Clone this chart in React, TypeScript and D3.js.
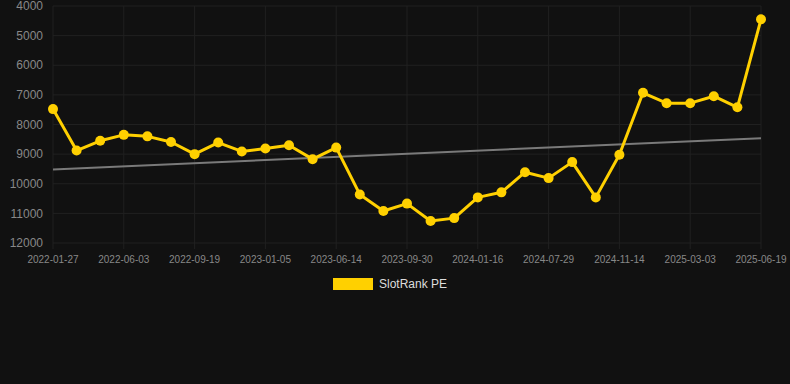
import React, { useEffect, useRef } from "react";
import * as d3 from "d3";

const tickLabels = [
  "2022-01-27", "2022-06-03", "2022-09-19", "2023-01-05", "2023-06-14", "2023-09-30",
  "2024-01-16", "2024-07-29", "2024-11-14", "2025-03-03", "2025-06-19",
];
const values = [
  7480, 8880, 8550, 8350, 8400, 8590, 9000,
  8610, 8910, 8810, 8700, 9170, 8780, 10360, 10920, 10670, 11260,
  11160, 10460, 10290, 9610, 9810, 9270, 10460, 9020,
  6930, 7280, 7280, 7045, 7420, 4450,
];
const trendValues = [9520, 8460];
const yTicks = [4000, 5000, 6000, 7000, 8000, 9000, 10000, 11000, 12000];
const seriesName = "SlotRank PE";

const W = 790, H = 384;
const M = { left: 53, right: 29, top: 6, bottom: 141 };

export default function App() {
  const ref = useRef<SVGSVGElement>(null);
  useEffect(() => {
    const svg = d3.select(ref.current);
    svg.selectAll("*").remove();
    const idx = values.map((_, i) => i);
    const x = d3.scalePoint<number>().domain(idx).range([M.left, W - M.right]);
    const y = d3.scaleLinear().domain([4000, 12000]).range([M.top, H - M.bottom]);

    svg.append("rect").attr("width", W).attr("height", H).attr("fill", "#111111");

    const g = svg.append("g");
    g.selectAll(".hg").data(yTicks).enter().append("line")
      .attr("x1", M.left).attr("x2", W - M.right)
      .attr("y1", d => y(d)).attr("y2", d => y(d))
      .attr("stroke", "#202020").attr("stroke-width", 1);
    const tickIdx = tickLabels.map((_, i) => i * 3);
    g.selectAll(".vg").data(tickIdx).enter().append("line")
      .attr("x1", d => x(d)!).attr("x2", d => x(d)!)
      .attr("y1", M.top).attr("y2", H - M.bottom + 6)
      .attr("stroke", "#202020").attr("stroke-width", 1);

    g.selectAll(".yl").data(yTicks).enter().append("text")
      .attr("x", 43).attr("y", d => y(d)).attr("dy", "0.35em")
      .attr("text-anchor", "end").attr("fill", "#888888")
      .attr("font-family", "Liberation Sans, Arial, sans-serif").attr("font-size", 12)
      .text(d => String(d));
    g.selectAll(".xl").data(tickLabels).enter().append("text")
      .attr("x", (_, i) => x(i * 3)!).attr("y", H - M.bottom + 20)
      .attr("text-anchor", "middle").attr("fill", "#888888")
      .attr("font-family", "Liberation Sans, Arial, sans-serif").attr("font-size", 10)
      .text(d => d);

    g.append("line")
      .attr("x1", x(0)!).attr("y1", y(trendValues[0]))
      .attr("x2", x(values.length - 1)!).attr("y2", y(trendValues[1]))
      .attr("stroke", "#7a7a7a").attr("stroke-width", 2);

    const line = d3.line<number>().x((_, i) => x(i)!).y(d => y(d));
    g.append("path").datum(values).attr("d", line)
      .attr("fill", "none").attr("stroke", "#FFD000").attr("stroke-width", 3)
      .attr("stroke-linejoin", "round");
    g.selectAll(".pt").data(values).enter().append("circle")
      .attr("cx", (_, i) => x(i)!).attr("cy", d => y(d)).attr("r", 5)
      .attr("fill", "#FFD000");

    svg.append("rect").attr("x", 333).attr("y", 278).attr("width", 40).attr("height", 12).attr("fill", "#FFD000");
    svg.append("text").attr("x", 379).attr("y", 284).attr("dy", "0.35em")
      .attr("fill", "#dddddd").attr("font-family", "Liberation Sans, Arial, sans-serif").attr("font-size", 12)
      .text(seriesName);
  }, []);
  return (
    <svg ref={ref} width={W} height={H} style={{ position: "absolute", left: 0, top: 0, display: "block" }} />
  );
}
